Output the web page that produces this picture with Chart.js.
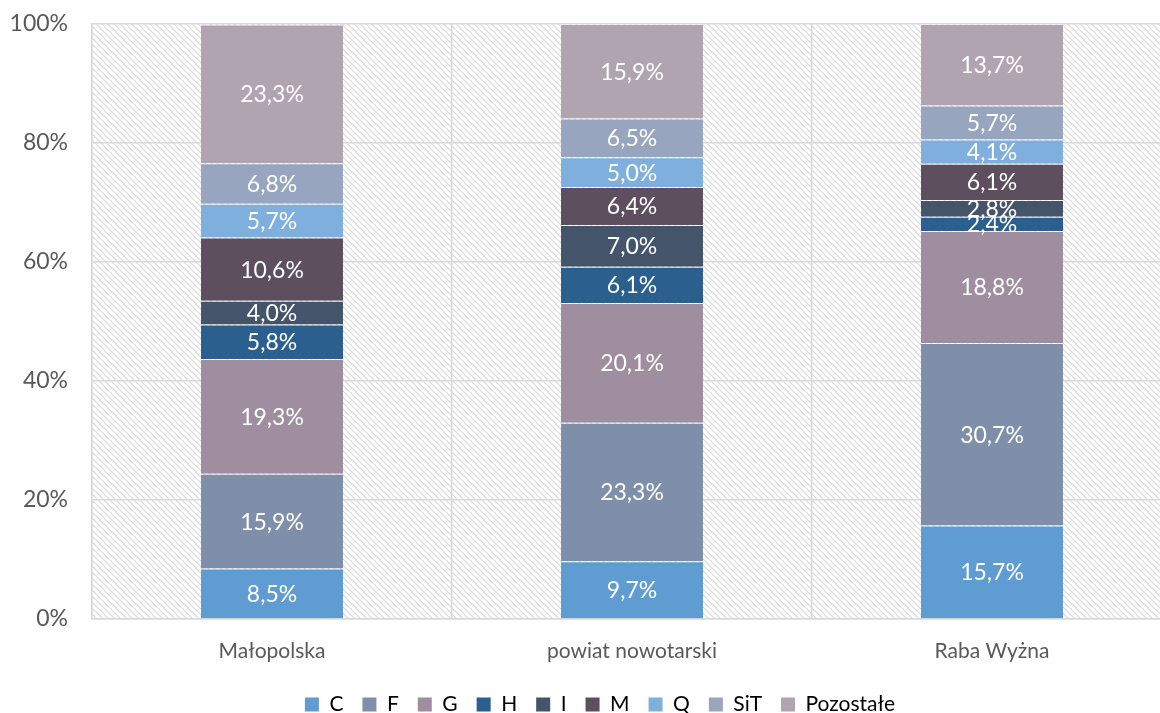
<!DOCTYPE html>
<html>
<head>
<meta charset="utf-8">
<script src="https://cdn.jsdelivr.net/npm/chart.js@4"></script>
<style>
  html, body { margin: 0; padding: 0; background: #fff; overflow: hidden; }
  #wrap { width: 1172px; height: 725px; position: relative; }
</style>
</head>
<body>
<div id="wrap"><canvas id="chart"></canvas></div>
<script>
// data (%), stacked bottom -> top
const categories = ['Małopolska', 'powiat nowotarski', 'Raba Wyżna'];
const seriesNames = ['C', 'F', 'G', 'H', 'I', 'M', 'Q', 'SiT', 'Pozostałe'];
const valuesC = [8.5, 9.7, 15.7];
const valuesF = [15.9, 23.3, 30.7];
const valuesG = [19.3, 20.1, 18.8];
const valuesH = [5.8, 6.1, 2.4];
const valuesI = [4.0, 7.0, 2.8];
const valuesM = [10.6, 6.4, 6.1];
const valuesQ = [5.7, 5.0, 4.1];
const valuesSiT = [6.8, 6.5, 5.7];
const valuesOther = [23.3, 15.9, 13.7];
const yTicks = [0, 20, 40, 60, 80, 100];

const colors = ['#5e9cd2', '#7f8fa9', '#9f8e9f', '#2a5f8e', '#44546a', '#5e4f5f', '#7fb0dd', '#97a5be', '#b1a4b1'];
const allValues = [valuesC, valuesF, valuesG, valuesH, valuesI, valuesM, valuesQ, valuesSiT, valuesOther];

const FONT = 'Lato, "Open Sans", sans-serif';

// hatched background of the plot area
const tile = document.createElement('canvas');
tile.width = 6; tile.height = 6;
const tctx = tile.getContext('2d');
tctx.fillStyle = '#ffffff';
tctx.fillRect(0, 0, 6, 6);
tctx.strokeStyle = '#d8d8d8';
tctx.lineWidth = 1.2;
tctx.beginPath();
tctx.moveTo(-1, -1); tctx.lineTo(7, 7);
tctx.moveTo(-7, -1); tctx.lineTo(1, 7);
tctx.moveTo(5, -1); tctx.lineTo(13, 7);
tctx.stroke();

const hatchPlugin = {
  id: 'hatch',
  beforeDraw(chart) {
    const { ctx, chartArea: a } = chart;
    ctx.save();
    ctx.fillStyle = ctx.createPattern(tile, 'repeat');
    ctx.fillRect(a.left, a.top, a.right - a.left, a.bottom - a.top);
    ctx.restore();
  }
};

// the canvas is wider than the window, so nudge the legend to the window centre
const legendShift = {
  id: 'legendShift',
  afterLayout(chart) {
    chart.legend.left += 14;
    chart.legend.right += 14;
  }
};

const valueLabels = {
  id: 'valueLabels',
  afterDatasetsDraw(chart) {
    const ctx = chart.ctx;
    ctx.save();
    ctx.font = '23px ' + FONT;
    ctx.fillStyle = '#ffffff';
    ctx.textAlign = 'center';
    ctx.textBaseline = 'middle';
    chart.data.datasets.forEach((ds, i) => {
      chart.getDatasetMeta(i).data.forEach((bar, j) => {
        const p = bar.getProps(['x', 'y', 'base'], true);
        const txt = ds.data[j].toFixed(1).replace('.', ',') + '%';
        ctx.fillText(txt, p.x, (p.y + p.base) / 2 + 1);
      });
    });
    ctx.restore();
  }
};

new Chart(document.getElementById('chart'), {
  type: 'bar',
  data: {
    labels: categories,
    datasets: seriesNames.map((name, i) => ({
      label: name,
      data: allValues[i],
      backgroundColor: colors[i],
      borderColor: 'rgba(255,255,255,0.25)',
      borderWidth: { top: 1, bottom: 0, left: 0, right: 0 },
      barPercentage: 0.395,
      categoryPercentage: 1
    }))
  },
  options: {
    responsive: true,
    maintainAspectRatio: false,
    animation: false,
    layout: { padding: { top: 24, bottom: 0, left: 0, right: 0 } },
    plugins: {
      tooltip: { enabled: false },
      legend: {
        position: 'bottom',
        labels: {
          font: { family: FONT, size: 21 },
          color: '#595959',
          boxWidth: 14,
          boxHeight: 14,
          padding: 19,
          generateLabels(chart) {
            return chart.data.datasets.map((ds, i) => ({
              text: ds.label,
              fillStyle: ds.backgroundColor,
              strokeStyle: ds.backgroundColor,
              lineWidth: 0,
              datasetIndex: i
            }));
          }
        }
      }
    },
    scales: {
      x: {
        stacked: true,
        grid: { color: '#d9d9d9', lineWidth: 1.5, drawTicks: false, offset: true },
        border: { color: '#d9d9d9', width: 1.5 },
        ticks: { font: { family: FONT, size: 21 }, color: '#595959', padding: 20 },
        afterFit(scale) {
          scale.height = 56;
          scale.paddingLeft = 0;
          scale.paddingRight = 0;
        }
      },
      y: {
        stacked: true,
        min: 0,
        max: 100,
        afterBuildTicks(scale) { scale.ticks = yTicks.map(v => ({ value: v })); },
        grid: { color: '#d9d9d9', lineWidth: 1.5, drawTicks: false },
        border: { color: '#d9d9d9', width: 1.5 },
        ticks: {
          font: { family: FONT, size: 23 },
          color: '#595959',
          padding: 24,
          callback: v => v + '%'
        },
        afterFit(scale) {
          scale.width = 92;
          scale.paddingTop = 0;
          scale.paddingBottom = 0;
        }
      }
    }
  },
  plugins: [hatchPlugin, legendShift, valueLabels]
});
</script>
</body>
</html>
